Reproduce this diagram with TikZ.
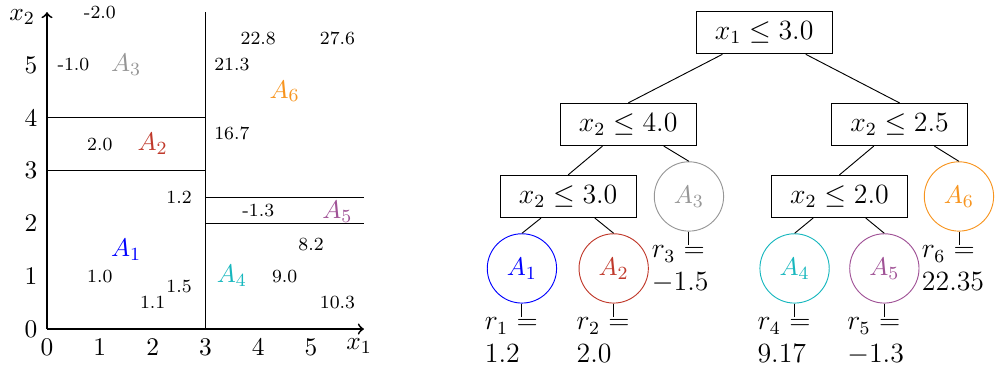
\documentclass[tikz,border=0pt,11pt]{standalone}
\usepackage{amsmath,amssymb}
\usepackage{tikz}
\usetikzlibrary{positioning}
\definecolor{cola}{RGB}{0,0,255}
\definecolor{colb}{RGB}{192,57,43}
\definecolor{colc}{RGB}{150,150,150}
\definecolor{cold}{RGB}{23,183,190}
\definecolor{cole}{RGB}{160,82,150}
\definecolor{colf}{RGB}{247,148,30}

\begin{document}
\begin{tikzpicture}[x=0.8cm, y=0.8cm,
  axis/.style={thick, ->},
  ticklab/.style={inner sep=4pt},
  val/.style={font=\scriptsize},
  split/.style={draw, on grid, font=\large, minimum width=2.06cm, minimum height=0.64cm},
  leaf/.style={circle, draw, on grid, minimum size=1.05cm, inner sep=0pt},
  rlab/.style={font=\large, text width=0.88cm, inner sep=0pt}]
  \useasboundingbox (-0.89,-0.87) rectangle (17.95,6.23);

  % partition of the plane
  \draw (3,0) -- (3,6);
  \draw (0,4) -- (3,4);
  \draw (0,3) -- (3,3);
  \draw (3,2.5) -- (6,2.5);
  \draw (3,2) -- (6,2);
  \draw[axis] (0,0) -- (6,0);
  \draw[axis] (0,0) -- (0,6);
  \node[ticklab, below, xshift=-2pt] (xl) at (6,0) {$x_1$};
  \node[left, inner sep=5pt, yshift=-2pt] (yl) at (0,6) {$x_2$};
  \node[ticklab, below] (tx0) at (0,0) {0};
  \node[ticklab, below] (tx1) at (1,0) {1};
  \node[ticklab, below] (tx2) at (2,0) {2};
  \node[ticklab, below] (tx3) at (3,0) {3};
  \node[ticklab, below] (tx4) at (4,0) {4};
  \node[ticklab, below] (tx5) at (5,0) {5};
  \node[ticklab, left] (ty0) at (0,0) {0};
  \node[ticklab, left] (ty1) at (0,1) {1};
  \node[ticklab, left] (ty2) at (0,2) {2};
  \node[ticklab, left] (ty3) at (0,3) {3};
  \node[ticklab, left] (ty4) at (0,4) {4};
  \node[ticklab, left] (ty5) at (0,5) {5};

  % regions
  \node[text=cola] (pa1) at (1.5,1.5) {$A_1$};
  \node[text=colb] (pa2) at (2,3.5) {$A_2$};
  \node[text=colc] (pa3) at (1.5,5) {$A_3$};
  \node[text=cold] (pa4) at (3.5,1) {$A_4$};
  \node[text=cole] (pa5) at (5.5,2.22) {$A_5$};
  \node[text=colf] (pa6) at (4.5,4.5) {$A_6$};

  % sample values
  \node[val] (v1) at (1,6) {-2.0};
  \node[val] (v2) at (0.5,5) {-1.0};
  \node[val] (v3) at (4,5.5) {22.8};
  \node[val] (v4) at (5.5,5.5) {27.6};
  \node[val] (v5) at (3.5,5) {21.3};
  \node[val] (v6) at (3.5,3.7) {16.7};
  \node[val] (v7) at (1,3.5) {2.0};
  \node[val] (v8) at (2.5,2.5) {1.2};
  \node[val] (v9) at (4,2.25) {-1.3};
  \node[val] (v10) at (5,1.6) {8.2};
  \node[val] (v11) at (1,1) {1.0};
  \node[val] (v12) at (4.5,1) {9.0};
  \node[val] (v13) at (2.5,0.8) {1.5};
  \node[val] (v14) at (2,0.5) {1.1};
  \node[val] (v15) at (5.5,0.5) {10.3};

  % tree
  \node[split] (s1) at (13.58,5.61) {$x_1 \le 3.0$};
  \node[split, below left=1.39cm and 2.06cm of s1] (s2) {$x_2 \le 4.0$};
  \node[split, below right=1.39cm and 2.05cm of s1] (s3) {$x_2 \le 2.5$};
  \node[split, below left=1.09cm and 0.91cm of s2] (s4) {$x_2 \le 3.0$};
  \node[leaf, draw=colc, text=colc, below right=1.09cm and 0.92cm of s2] (a3) {$A_3$};
  \node[split, below left=1.09cm and 0.91cm of s3] (s5) {$x_2 \le 2.0$};
  \node[leaf, draw=colf, text=colf, below right=1.09cm and 0.9cm of s3] (a6) {$A_6$};
  \node[leaf, draw=cola, text=cola, below left=1.09cm and 0.7cm of s4] (a1) {$A_1$};
  \node[leaf, draw=colb, text=colb, below right=1.09cm and 0.69cm of s4] (a2) {$A_2$};
  \node[leaf, draw=cold, text=cold, below left=1.09cm and 0.68cm of s5] (a4) {$A_4$};
  \node[leaf, draw=cole, text=cole, below right=1.09cm and 0.68cm of s5] (a5) {$A_5$};
  \draw (s1) -- (s2.north);
  \draw (s1) -- (s3.north);
  \draw (s2) -- (s4.north);
  \draw (s2) -- (a3.north);
  \draw (s3) -- (s5.north);
  \draw (s3) -- (a6.north);
  \draw (s4) -- (a1.north);
  \draw (s4) -- (a2.north);
  \draw (s5) -- (a4.north);
  \draw (s5) -- (a5.north);

  % leaf values
  \node[rlab, below=0.21cm of a1, xshift=-0.12cm] (r1) {$r_1 = 1.2$};
  \node[rlab, below=0.21cm of a2, xshift=-0.12cm] (r2) {$r_2 = 2.0$};
  \node[rlab, below=0.21cm of a3, xshift=-0.12cm] (r3) {$r_3 = -1.5$};
  \node[rlab, below=0.21cm of a4, xshift=-0.12cm] (r4) {$r_4 = 9.17$};
  \node[rlab, below=0.21cm of a5, xshift=-0.12cm] (r5) {$r_5 = -1.3$};
  \node[rlab, below=0.21cm of a6, xshift=-0.12cm] (r6) {$r_6 = 22.35$};
  \draw (a1.south) -- (a1.south |- r1.north);
  \draw (a2.south) -- (a2.south |- r2.north);
  \draw (a3.south) -- (a3.south |- r3.north);
  \draw (a4.south) -- (a4.south |- r4.north);
  \draw (a5.south) -- (a5.south |- r5.north);
  \draw (a6.south) -- (a6.south |- r6.north);
\end{tikzpicture}
\end{document}
